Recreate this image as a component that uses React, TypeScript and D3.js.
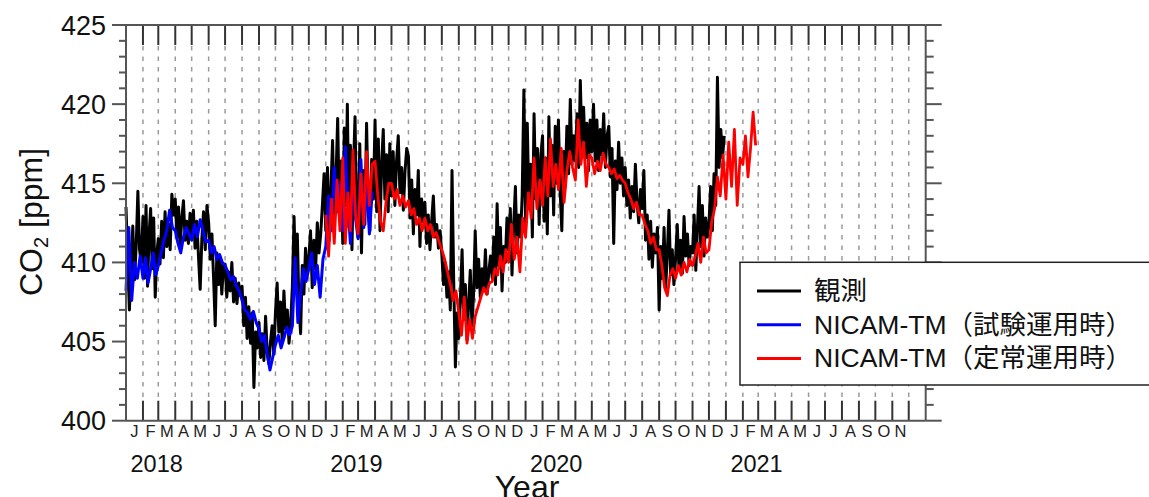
import React from 'react';
import * as d3 from 'd3';

// 観測 (observed), 10 values per month, Jan..Dec
const obs2018 = [
  413.5, 410.2, 407.0, 409.5, 412.3, 408.9, 411.0, 414.5, 410.8, 410.0,
  412.9, 409.0, 413.6, 408.5, 411.8, 413.4, 409.6, 412.8, 407.8, 410.5,
  411.5, 409.9, 412.6, 410.3, 413.2, 411.0, 412.4, 410.8, 414.3, 413.0,
  414.0, 411.6, 413.5, 411.0, 412.8, 413.9, 411.4, 412.6, 411.2, 413.1,
  411.8, 413.3, 410.9, 412.6, 410.4, 408.3, 411.5, 413.2, 410.8, 413.6,
  412.5, 410.2, 411.8, 409.0, 406.0, 410.6, 408.6, 410.3, 408.0, 409.8,
  409.9, 407.8, 409.4, 408.2, 410.0, 407.5, 409.0, 407.4, 408.7, 407.9,
  408.5, 406.0, 407.8, 405.2, 407.2, 404.9, 406.8, 402.1, 405.6, 404.6,
  406.2, 404.0, 405.5, 403.8, 406.6, 404.3, 403.6, 405.0, 406.0, 404.2,
  406.8, 408.7, 405.6, 407.5, 405.0, 408.2, 405.8, 407.0, 404.9, 406.2,
  408.5, 412.9, 409.0, 411.8, 407.2, 405.5, 409.8, 408.0, 410.9, 409.2,
  410.2, 412.0, 408.4, 411.4, 409.6, 412.5, 410.6, 411.8, 413.6, 415.6,
];
const obs2019 = [
  412.0, 416.0, 411.4, 414.5, 417.7, 412.8, 415.2, 419.1, 413.0, 416.4,
  411.2, 418.5, 413.6, 420.0, 412.2, 417.4, 410.8, 416.0, 419.2, 413.0,
  411.6, 417.5, 410.6, 415.8, 412.4, 418.8, 413.6, 412.0, 416.5, 414.0,
  419.0, 413.2, 417.8, 412.0, 416.2, 418.4, 414.0, 416.8, 413.2, 417.5,
  414.2, 417.0, 413.6, 416.4, 418.0, 414.4, 416.0, 413.3, 415.8, 417.2,
  416.7, 412.8, 415.2, 411.8, 414.6, 413.0, 415.8, 411.0, 414.0, 412.6,
  413.8, 411.2, 413.0, 410.8, 412.6, 414.2, 411.6, 412.4, 410.9, 412.0,
  410.5, 408.6, 410.0, 407.8, 409.4, 407.0, 415.8, 408.8, 403.4, 406.8,
  405.2, 407.8, 410.8, 406.4, 408.6, 405.1, 407.4, 409.5, 406.0, 408.0,
  412.0, 408.4, 410.2, 407.8, 409.6, 408.2, 410.8, 408.0, 409.4, 410.4,
  409.0, 411.6, 408.6, 413.7, 409.8, 412.2, 408.2, 411.0, 410.0, 412.8,
  410.8, 413.4, 409.2, 412.4, 414.8, 410.6, 413.0, 411.6, 414.2, 420.9,
];
const obs2020 = [
  412.2, 418.8, 413.4, 416.2, 411.6, 419.4, 414.0, 417.2, 412.4, 416.8,
  418.0, 412.6, 416.6, 411.8, 419.2, 414.2, 417.4, 413.0, 418.6, 415.0,
  419.0, 414.6, 412.0, 417.0, 414.8, 418.6, 415.6, 420.3, 416.2, 418.0,
  416.4, 419.4, 416.0, 421.5, 417.2, 419.8, 416.6, 418.8, 415.8, 419.0,
  417.0, 420.0, 416.4, 419.0, 415.8, 418.4, 416.8, 419.4, 416.0, 418.0,
  418.6, 415.4, 417.2, 411.2, 416.4, 414.6, 417.6, 415.0, 416.6, 414.2,
  416.0, 413.6, 415.2, 412.8, 414.8, 413.2, 416.2, 413.8, 412.5, 414.6,
  413.4, 415.8, 411.4, 413.0, 410.2, 412.6, 409.7, 411.8, 410.6, 412.2,
  407.0, 411.0, 409.0, 412.2, 408.4, 410.6, 413.3, 409.2, 410.8, 408.6,
  410.2, 412.4, 409.6, 411.4, 409.3, 412.9, 410.4, 411.8, 409.8, 411.0,
  410.6, 413.0, 409.5, 412.2, 414.8, 411.0, 413.6, 410.4, 412.8, 411.6,
  412.4, 414.8, 412.0, 415.6, 413.6, 421.7, 416.0, 418.4, 416.6, 418.0,
];

// NICAM-TM 試験運用時, Jan 2018 .. Mar 2019, 6 values per month
const nicamTest = [
  408.2, 412.2, 407.6, 410.0, 409.0, 410.4,
  409.0, 410.3, 408.7, 409.6, 410.6, 409.2,
  409.8, 410.6, 411.4, 412.0, 413.3, 412.2,
  412.0, 411.2, 410.6, 411.6, 412.2, 411.8,
  411.4, 412.4, 411.6, 412.7, 412.0, 411.3,
  411.4, 410.6, 411.0, 410.2, 410.5, 410.0,
  409.8, 409.4, 408.9, 409.1, 408.5, 408.2,
  407.6, 407.0, 406.8, 406.4, 406.9, 406.2,
  405.8, 405.0, 405.4, 404.2, 403.2, 404.0,
  404.8, 405.4, 404.6, 405.2, 405.9, 405.4,
  406.0, 410.3, 406.2, 408.0, 409.6, 408.8,
  409.6, 410.6, 408.6, 409.8, 407.8, 410.2,
  411.0, 414.2, 412.0, 416.0, 413.2, 415.0,
  412.0, 417.3, 413.6, 411.2, 416.0, 412.8,
  411.5, 416.5, 412.2, 415.0, 411.8, 414.5,
];

// NICAM-TM 定常運用時, Jan 2019 .. Feb 2021, 6 values per month
const nicamOper = [
  413.0, 410.4, 414.0, 411.2, 415.2, 412.0,
  416.6, 411.2, 414.4, 412.0, 417.1, 413.0,
  411.8, 415.6, 412.4, 417.0, 413.6, 416.2,
  416.4, 414.2, 412.6, 412.0, 413.8, 415.0,
  415.0, 414.0, 414.6, 413.6, 414.2, 413.5,
  413.9, 413.0, 413.4, 412.4, 412.8, 412.0,
  412.8, 412.0, 412.4, 411.6, 411.9, 411.3,
  410.8, 410.2, 409.4, 408.6, 407.6, 408.2,
  406.8, 405.4, 407.8, 404.9, 406.4, 405.2,
  406.6, 407.2, 407.8, 408.4, 408.0, 408.7,
  408.8, 409.6, 409.2, 410.4, 409.4, 410.8,
  410.0, 412.4, 410.2, 411.6, 409.4, 412.8,
  411.6, 414.4, 412.8, 416.6, 413.4, 415.2,
  413.6, 416.6, 414.2, 417.8, 414.8, 416.2,
  414.6, 417.2, 413.8, 415.8, 417.0, 416.0,
  415.2, 419.0, 416.2, 417.6, 414.8, 416.8,
  416.6, 415.6, 416.4, 415.8, 416.9, 416.2,
  416.0, 415.6, 415.9, 415.3, 415.5, 415.2,
  415.0, 414.4, 414.0, 413.4, 413.8, 413.0,
  413.0, 412.4, 412.0, 411.2, 411.6, 410.8,
  410.8, 409.8, 408.4, 407.9, 409.2, 409.6,
  409.0, 409.8, 409.2, 410.0, 409.4, 410.2,
  409.8, 410.4, 411.2, 410.0, 411.6, 410.6,
  410.8, 412.6, 413.4, 415.4, 414.2, 416.8,
  414.0, 417.6, 414.8, 418.4, 413.6, 416.6,
  416.2, 418.0, 415.4, 417.2, 419.5, 417.4,
];

const monthLetters = ['J', 'F', 'M', 'A', 'M', 'J', 'J', 'A', 'S', 'O', 'N', 'D'];
const yearLabels = ['2018', '2019', '2020', '2021'];
const yTicks = [400, 405, 410, 415, 420, 425];

const legendItems = [
  { label: '観測', color: '#000000' },
  { label: 'NICAM-TM（試験運用時）', color: '#0000ff' },
  { label: 'NICAM-TM（定常運用時）', color: '#ff0000' },
];

const W = 1149;
const H = 497;
const left = 126, right = 925.7, top = 25, bottom = 420.7;
const font = "'Liberation Sans', Arial, 'Noto Sans CJK JP', sans-serif";

type Pt = { date: Date; value: number };

// spread the values of each month evenly over that month
function toPoints(values: number[], start: Date, perMonth: number): Pt[] {
  return values.map((v, i) => {
    const m0 = d3.timeMonth.offset(start, Math.floor(i / perMonth));
    const m1 = d3.timeMonth.offset(m0, 1);
    const f = (i % perMonth) / perMonth;
    return { date: new Date(+m0 + f * (+m1 - +m0)), value: v };
  });
}

const App: React.FC = () => {
  const x = d3.scaleTime()
    .domain([new Date(2018, 0, 1), new Date(2022, 0, 1)])
    .range([left, right]);
  const y = d3.scaleLinear().domain([400, 425]).range([bottom, top]);

  const line = d3.line<Pt>()
    .x(d => x(d.date))
    .y(d => y(d.value));

  const obs = toPoints([...obs2018, ...obs2019, ...obs2020], new Date(2018, 0, 1), 10);
  const test = toPoints(nicamTest, new Date(2018, 0, 1), 6);
  const oper = toPoints(nicamOper, new Date(2019, 0, 1), 6);

  const months = d3.timeMonth.range(new Date(2018, 0, 1), new Date(2022, 0, 1));
  const inner = months.slice(1);
  const labelled = months.slice(0, months.length - 1);
  const minor = d3.range(400, 426);

  return (
    <svg width={W} height={H} style={{ position: 'absolute', left: 0, top: 0, background: '#fff' }}>
      {/* dashed month grid */}
      {inner.map((m, i) => (
        <line key={'g' + i} x1={x(m)} x2={x(m)} y1={top + 21} y2={bottom - 21}
          stroke="#9a9a9a" strokeWidth={1.5} strokeDasharray="4.5 6" />
      ))}
      {/* month ticks top and bottom */}
      {inner.map((m, i) => (
        <g key={'t' + i} stroke="#333" strokeWidth={2}>
          <line x1={x(m)} x2={x(m)} y1={top} y2={top + 20} />
          <line x1={x(m)} x2={x(m)} y1={bottom - 20} y2={bottom} />
        </g>
      ))}

      {/* series */}
      <path d={line(obs) ?? ''} fill="none" stroke="#000" strokeWidth={3} strokeLinejoin="round" />
      <path d={line(test) ?? ''} fill="none" stroke="#0000ff" strokeWidth={3} strokeLinejoin="round" />
      <path d={line(oper) ?? ''} fill="none" stroke="#ff0000" strokeWidth={2.8} strokeLinejoin="round" />

      {/* frame */}
      <g stroke="#555" strokeWidth={2} fill="none">
        <line x1={left} x2={left} y1={top} y2={bottom} />
        <line x1={right} x2={right} y1={top} y2={bottom} />
        <line x1={left} x2={right} y1={top} y2={top} />
        <line x1={left} x2={right} y1={bottom} y2={bottom} />
        {minor.map(v => {
          const major = v % 5 === 0;
          return (
            <g key={'y' + v}>
              <line x1={left - (major ? 14 : 7)} x2={left} y1={y(v)} y2={y(v)} />
              <line x1={right} x2={right + (major ? 16 : 8)} y1={y(v)} y2={y(v)} />
            </g>
          );
        })}
      </g>

      {/* y tick labels */}
      {yTicks.map(v => (
        <text key={'yl' + v} x={106} y={y(v) + 9.5} textAnchor="end"
          fontFamily={font} fontSize={27} fill="#111">{v}</text>
      ))}

      {/* month letters */}
      {labelled.map((m, i) => (
        <text key={'ml' + i} x={(x(m) + x(d3.timeMonth.offset(m, 1))) / 2} y={437}
          textAnchor="middle" fontFamily={font} fontSize={16.5} fill="#222">
          {monthLetters[m.getMonth()]}
        </text>
      ))}

      {/* years */}
      {yearLabels.map((yr, i) => (
        <text key={'yr' + yr} x={x(new Date(2018 + i, 0, 1)) + 4.5} y={471.5}
          fontFamily={font} fontSize={23.5} fill="#111">{yr}</text>
      ))}

      <text x={527} y={498} textAnchor="middle" fontFamily={font} fontSize={32} fill="#111">Year</text>

      <text transform="translate(42,222) rotate(-90)" textAnchor="middle"
        fontFamily={font} fontSize={32} fill="#111">
        CO<tspan dy={6} fontSize={20}>2</tspan><tspan dy={-6}> [ppm]</tspan>
      </text>

      {/* legend */}
      <rect x={740} y={262.3} width={430} height={122.7} fill="#fff" stroke="#222" strokeWidth={1.5} />
      {legendItems.map((it, i) => (
        <g key={'lg' + i}>
          <line x1={757} x2={801} y1={291 + i * 33.7} y2={291 + i * 33.7}
            stroke={it.color} strokeWidth={3} />
          <text x={814} y={300 + i * 33.7} fontFamily={font} fontSize={26.5} fill="#111">
            {it.label}
          </text>
        </g>
      ))}
    </svg>
  );
};

export default App;
